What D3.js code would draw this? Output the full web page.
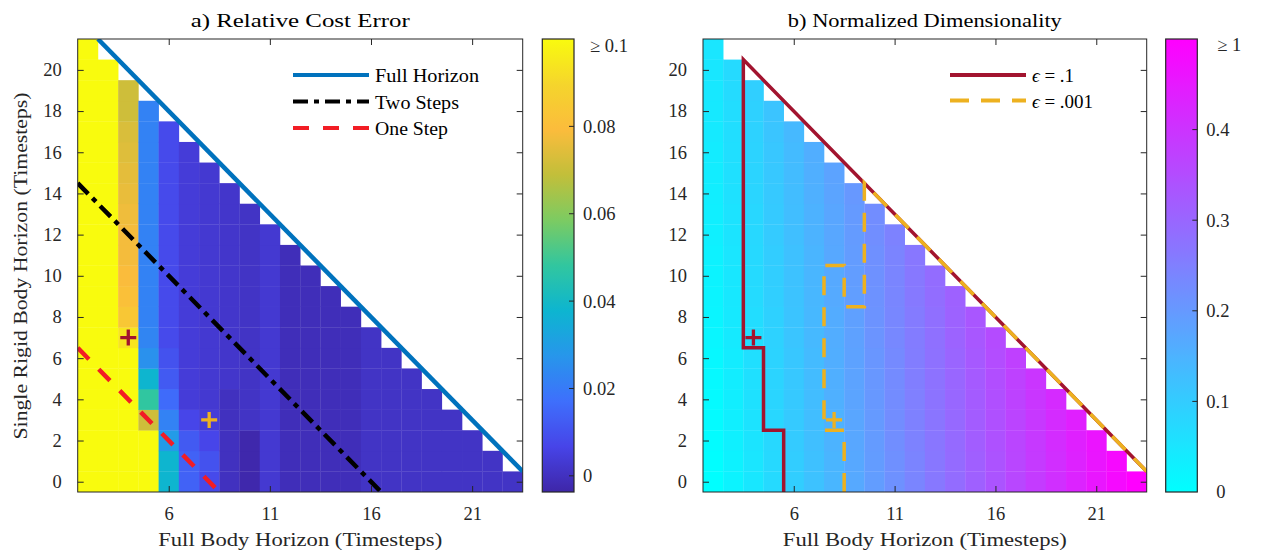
<!DOCTYPE html>
<html>
<head>
<meta charset="utf-8">
<script src="https://cdn.jsdelivr.net/npm/d3@7"></script>
<style>
  body { margin: 0; background: #fff; }
  text { font-family: "Liberation Serif", "Times New Roman", serif; }
</style>
</head>
<body>
<div id="chart"></div>
<script>
const fullBodySteps = [2, 3, 4, 5, 6, 7, 8, 9, 10, 11, 12, 13, 14, 15, 16, 17, 18, 19, 20, 21, 22, 23];
const rigidBodySteps = [0, 1, 2, 3, 4, 5, 6, 7, 8, 9, 10, 11, 12, 13, 14, 15, 16, 17, 18, 19, 20, 21];

// relative cost error, one list per full body horizon, rigid horizon 0 upward
const costError = [
  [0.12, 0.12, 0.12, 0.12, 0.12, 0.12, 0.12, 0.12, 0.12, 0.12, 0.12, 0.12, 0.12, 0.12, 0.12, 0.12, 0.12, 0.12, 0.12, 0.12, 0.12, 0.12],
  [0.12, 0.12, 0.12, 0.12, 0.12, 0.12, 0.12, 0.12, 0.12, 0.12, 0.12, 0.12, 0.12, 0.12, 0.12, 0.12, 0.12, 0.12, 0.12, 0.12, 0.12],
  [0.12, 0.12, 0.12, 0.12, 0.12, 0.12, 0.12, 0.094, 0.084, 0.081, 0.079, 0.078, 0.078, 0.077, 0.076, 0.075, 0.074, 0.073, 0.071, 0.071],
  [0.12, 0.12, 0.12, 0.071, 0.048, 0.038, 0.026, 0.023, 0.022, 0.022, 0.022, 0.022, 0.022, 0.022, 0.022, 0.022, 0.022, 0.022, 0.022],
  [0.038, 0.038, 0.029, 0.022, 0.016, 0.012, 0.010, 0.008, 0.008, 0.008, 0.008, 0.008, 0.008, 0.008, 0.008, 0.008, 0.008, 0.008],
  [0.014, 0.014, 0.012, 0.007, 0.004, 0.004, 0.004, 0.004, 0.004, 0.004, 0.004, 0.004, 0.004, 0.004, 0.004, 0.004, 0.004],
  [0.008, 0.010, 0.007, 0.004, 0.003, 0.003, 0.003, 0.003, 0.003, 0.003, 0.003, 0.003, 0.003, 0.003, 0.003, 0.003],
  [0.000, 0.000, 0.000, 0.000, 0.000, 0.002, 0.002, 0.002, 0.002, 0.002, 0.002, 0.002, 0.002, 0.002, 0.002],
  [-0.003, -0.003, -0.003, 0.001, 0.001, 0.001, 0.001, 0.001, 0.001, 0.001, 0.001, 0.001, 0.001, 0.001],
  [0.003, 0.003, 0.003, 0.003, 0.003, 0.003, 0.003, 0.003, 0.003, 0.003, 0.003, 0.003, 0.003],
  [-0.001, -0.001, -0.001, -0.001, -0.001, -0.001, -0.001, -0.001, -0.001, -0.001, -0.001, -0.001],
  [-0.001, -0.001, -0.001, -0.001, -0.001, -0.001, -0.001, -0.001, -0.001, -0.001, -0.001],
  [-0.001, -0.001, -0.001, -0.001, -0.001, -0.001, -0.001, -0.001, -0.001, -0.001],
  [-0.001, -0.001, -0.001, -0.001, -0.001, -0.001, -0.001, -0.001, -0.001],
  [0.001, 0.001, 0.001, 0.001, 0.001, 0.001, 0.001, 0.001],
  [0.001, 0.001, 0.001, 0.001, 0.001, 0.001, 0.001],
  [0.001, 0.001, 0.001, 0.001, 0.001, 0.001],
  [0.001, 0.001, 0.001, 0.001, 0.001],
  [0.001, 0.001, 0.001, 0.001],
  [0.001, 0.001, 0.001],
  [0.001, 0.001],
  [0.001]
];

// normalized dimensionality, same layout
const normDim = [
  [0.000, 0.002, 0.005, 0.007, 0.010, 0.012, 0.014, 0.017, 0.019, 0.022, 0.024, 0.026, 0.029, 0.031, 0.034, 0.036, 0.038, 0.041, 0.043, 0.046, 0.048, 0.050],
  [0.024, 0.026, 0.029, 0.031, 0.034, 0.036, 0.038, 0.041, 0.043, 0.046, 0.048, 0.050, 0.053, 0.055, 0.058, 0.060, 0.062, 0.065, 0.067, 0.070, 0.072],
  [0.048, 0.050, 0.053, 0.055, 0.058, 0.060, 0.062, 0.065, 0.067, 0.070, 0.072, 0.074, 0.077, 0.079, 0.082, 0.084, 0.086, 0.089, 0.091, 0.094],
  [0.072, 0.074, 0.077, 0.079, 0.082, 0.084, 0.086, 0.089, 0.091, 0.094, 0.096, 0.098, 0.101, 0.103, 0.106, 0.108, 0.110, 0.113, 0.115],
  [0.096, 0.098, 0.101, 0.103, 0.106, 0.108, 0.110, 0.113, 0.115, 0.118, 0.120, 0.122, 0.125, 0.127, 0.130, 0.132, 0.134, 0.137],
  [0.120, 0.122, 0.125, 0.127, 0.130, 0.132, 0.134, 0.137, 0.139, 0.142, 0.144, 0.146, 0.149, 0.151, 0.154, 0.156, 0.158],
  [0.144, 0.146, 0.149, 0.151, 0.154, 0.156, 0.158, 0.161, 0.163, 0.166, 0.168, 0.170, 0.173, 0.175, 0.178, 0.180],
  [0.168, 0.170, 0.173, 0.175, 0.178, 0.180, 0.182, 0.185, 0.187, 0.190, 0.192, 0.194, 0.197, 0.199, 0.202],
  [0.192, 0.194, 0.197, 0.199, 0.202, 0.204, 0.206, 0.209, 0.211, 0.214, 0.216, 0.218, 0.221, 0.223],
  [0.216, 0.218, 0.221, 0.223, 0.226, 0.228, 0.230, 0.233, 0.235, 0.238, 0.240, 0.242, 0.245],
  [0.240, 0.242, 0.245, 0.247, 0.250, 0.252, 0.254, 0.257, 0.259, 0.262, 0.264, 0.266],
  [0.264, 0.266, 0.269, 0.271, 0.274, 0.276, 0.278, 0.281, 0.283, 0.286, 0.288],
  [0.288, 0.290, 0.293, 0.295, 0.298, 0.300, 0.302, 0.305, 0.307, 0.310],
  [0.312, 0.314, 0.317, 0.319, 0.322, 0.324, 0.326, 0.329, 0.331],
  [0.336, 0.338, 0.341, 0.343, 0.346, 0.348, 0.350, 0.353],
  [0.360, 0.362, 0.365, 0.367, 0.370, 0.372, 0.374],
  [0.384, 0.386, 0.389, 0.391, 0.394, 0.396],
  [0.408, 0.410, 0.413, 0.415, 0.418],
  [0.432, 0.434, 0.437, 0.439],
  [0.456, 0.458, 0.461],
  [0.480, 0.482],
  [0.504]
];

const xTicks = [6, 11, 16, 21];
const yTicks = [0, 2, 4, 6, 8, 10, 12, 14, 16, 18, 20];
const costTicks = [0, 0.02, 0.04, 0.06, 0.08, 0.1];
const costTickLabels = ["0", "0.02", "0.04", "0.06", "0.08", "\u2265 0.1"];
const dimTicks = [0, 0.1, 0.2, 0.3, 0.4, 0.5];
const dimTickLabels = ["0", "0.1", "0.2", "0.3", "0.4", "\u2265 1"];

// boundary lines (full body horizon, rigid body horizon)
const fullHorizon = [[2.5, 21.5], [23.5, 0.5]];
const twoSteps = [[1.5, 14.5], [16.5, -0.5]];
const oneStep = [[1.5, 6.5], [8.5, -0.5]];
const eps1 = [[5.5, -0.5], [5.5, 2.5], [4.5, 2.5], [4.5, 6.5], [3.5, 6.5], [3.5, 20.5], [23.5, 0.5]];
const eps001 = [[8.5, -0.5], [8.5, 2.5], [7.5, 2.5], [7.5, 10.5], [8.5, 10.5], [8.5, 8.5], [9.5, 8.5], [9.5, 14.5], [23.5, 0.5]];
const picks = [[4, 7], [8, 3]];

const red = "#A2142F", orange = "#EDB120", blue = "#0072BD";
const parula = d3.piecewise(d3.interpolateRgb, ["#3e26a8", "#4744e8", "#3e6ffc", "#2796eb", "#0db5d0",
  "#31c69f", "#7ccb62", "#c2bf3a", "#fbbc3c", "#f5d52c", "#f9fb0e"]);
const cool = d3.interpolateRgb("#00ffff", "#ff00ff");

const plotTop = 39, plotBottom = 492;
const svg = d3.select("#chart").append("svg").attr("width", 1261).attr("height", 553);

function drawPanel(cfg) {
  const g = svg.append("g");
  const x = d3.scaleLinear().domain([1.5, 23.5]).range([cfg.left, cfg.right]);
  const y = d3.scaleLinear().domain([-0.5, 21.5]).range([plotBottom, plotTop]);
  const color = d3.scaleSequential(cfg.interp).domain(cfg.cbDomain).clamp(true);

  const clipId = "clip" + cfg.id;
  svg.append("clipPath").attr("id", clipId).append("rect")
    .attr("x", cfg.left).attr("y", plotTop).attr("width", cfg.right - cfg.left).attr("height", plotBottom - plotTop);

  const cells = cfg.values.flatMap((col, i) => col.map((v, j) => ({ x: fullBodySteps[i], y: rigidBodySteps[j], v })));
  g.append("g").attr("clip-path", `url(#${clipId})`)
    .selectAll("rect").data(cells).join("rect")
    .attr("x", d => x(d.x - 0.5))
    .attr("y", d => y(d.y + 0.5))
    .attr("width", x(1) - x(0) + 0.3)
    .attr("height", y(0) - y(1) + 0.3)
    .attr("fill", d => color(d.v));

  const line = d3.line().x(d => x(d[0])).y(d => y(d[1]));
  const lines = g.append("g").attr("clip-path", `url(#${clipId})`).attr("fill", "none");
  cfg.lines.forEach(l => {
    lines.append("path").attr("d", line(l.pts))
      .attr("stroke", l.color).attr("stroke-width", l.width)
      .attr("stroke-dasharray", l.dash || null);
  });
  g.selectAll("path.pick").data(picks).join("path").attr("class", "pick")
    .attr("d", d => `M${x(d[0]) - 8},${y(d[1])}H${x(d[0]) + 8}M${x(d[0])},${y(d[1]) - 8}V${y(d[1]) + 8}`)
    .attr("stroke", (d, i) => i === 0 ? red : orange).attr("stroke-width", 3.3).attr("fill", "none");

  // axes, MATLAB box style with inward ticks
  const axisStyle = sel => {
    sel.select(".domain").remove();
    sel.selectAll(".tick line").attr("stroke", "#262626");
    sel.selectAll("text").attr("font-family", "Liberation Serif").attr("font-size", 18.5).attr("fill", "#262626");
  };
  g.append("g").attr("transform", `translate(0,${plotBottom})`)
    .call(d3.axisBottom(x).tickValues(xTicks).tickSize(-6).tickPadding(15)).call(axisStyle);
  g.append("g").attr("transform", `translate(0,${plotTop})`)
    .call(d3.axisTop(x).tickValues(xTicks).tickSize(-6).tickFormat("")).call(axisStyle);
  g.append("g").attr("transform", `translate(${cfg.left},0)`)
    .call(d3.axisLeft(y).tickValues(yTicks).tickSize(-6).tickPadding(16)).call(axisStyle);
  g.append("g").attr("transform", `translate(${cfg.right},0)`)
    .call(d3.axisRight(y).tickValues(yTicks).tickSize(-6).tickFormat("")).call(axisStyle);
  g.append("rect").attr("x", cfg.left).attr("y", plotTop).attr("width", cfg.right - cfg.left).attr("height", plotBottom - plotTop)
    .attr("fill", "none").attr("stroke", "#262626").attr("stroke-width", 1);

  g.append("text").attr("x", (cfg.left + cfg.right) / 2).attr("y", 27).attr("text-anchor", "middle")
    .attr("font-size", 19).attr("textLength", cfg.titleLen).attr("lengthAdjust", "spacingAndGlyphs")
    .attr("fill", "#000").text(cfg.title);
  g.append("text").attr("x", (cfg.left + cfg.right) / 2).attr("y", 546).attr("text-anchor", "middle")
    .attr("font-size", 19.5).attr("textLength", 284).attr("lengthAdjust", "spacingAndGlyphs")
    .attr("fill", "#262626").text("Full Body Horizon (Timesteps)");

  // legend
  const leg = g.append("g");
  cfg.legend.forEach((l, i) => {
    const ly = cfg.legY + i * cfg.legStep;
    leg.append("line").attr("x1", cfg.legX).attr("x2", cfg.legX + 76).attr("y1", ly).attr("y2", ly)
      .attr("stroke", l.color).attr("stroke-width", 4).attr("stroke-dasharray", l.dash || null);
    const t = leg.append("text").attr("x", cfg.legX + 82).attr("y", ly + 7).attr("font-size", 19).attr("fill", "#000");
    if (l.eps) {
      t.append("tspan").attr("font-style", "italic").text("\u03F5");
      t.append("tspan").text(" = " + l.label);
    } else {
      t.attr("textLength", l.len).attr("lengthAdjust", "spacingAndGlyphs").text(l.label);
    }
  });

  // colorbar
  const gradId = "grad" + cfg.id;
  const grad = svg.append("defs").append("linearGradient").attr("id", gradId)
    .attr("x1", 0).attr("y1", 1).attr("x2", 0).attr("y2", 0);
  grad.selectAll("stop").data(d3.range(0, 1.0001, 0.02)).join("stop")
    .attr("offset", d => d).attr("stop-color", d => cfg.interp(d));
  const cy = d3.scaleLinear().domain(cfg.cbDomain).range([plotBottom, plotTop]);
  const cb = g.append("g");
  cb.append("rect").attr("x", cfg.cbLeft).attr("y", plotTop).attr("width", cfg.cbRight - cfg.cbLeft).attr("height", plotBottom - plotTop)
    .attr("fill", `url(#${gradId})`).attr("stroke", "#262626").attr("stroke-width", 1.2);
  cb.selectAll("line.cbt").data(cfg.cbTicks.filter(d => cy(d) > plotTop + 1 && cy(d) < plotBottom - 1)).join("line")
    .attr("x1", cfg.cbRight - 5).attr("x2", cfg.cbRight).attr("y1", d => cy(d)).attr("y2", d => cy(d))
    .attr("stroke", "#262626");
  cb.selectAll("text").data(cfg.cbTicks).join("text")
    .attr("x", (d, i) => cfg.cbRight + 9 + (cfg.cbDx[i] || 0))
    .attr("y", (d, i) => cy(d) + (cfg.cbDy[i] || 0))
    .attr("dy", "0.35em").attr("font-size", 18.5).attr("fill", "#262626")
    .text((d, i) => cfg.cbLabels[i]);
}

drawPanel({
  id: "a", left: 77.7, right: 522.7, cbLeft: 542.3, cbRight: 574,
  values: costError, interp: parula, cbDomain: [-0.0037, 0.1],
  cbTicks: costTicks, cbLabels: costTickLabels, cbDx: [0, 0, 0, 0, 0, 7], cbDy: [0, 0, 0, 0, 0, 7],
  title: "a) Relative Cost Error", titleLen: 219,
  lines: [
    { pts: fullHorizon, color: blue, width: 4.5 },
    { pts: twoSteps, color: "#000", width: 4.5, dash: "15,6,5,6" },
    { pts: oneStep, color: "#f21d25", width: 4.5, dash: "16,14" }
  ],
  legX: 293, legY: 75, legStep: 26.5,
  legend: [
    { label: "Full Horizon", color: blue, len: 104 },
    { label: "Two Steps", color: "#000", dash: "15,6,5,6", len: 84 },
    { label: "One Step", color: "#f21d25", dash: "16,14", len: 73 }
  ]
});

drawPanel({
  id: "b", left: 703, right: 1146.7, cbLeft: 1165.7, cbRight: 1197.3,
  values: normDim, interp: cool, cbDomain: [0, 0.5],
  cbTicks: dimTicks, cbLabels: dimTickLabels, cbDx: [10, 0, 0, 0, 0, 11], cbDy: [0, 0, 0, 0, 0, 6],
  title: "b) Normalized Dimensionality", titleLen: 274,
  lines: [
    { pts: eps1, color: red, width: 3.5 },
    { pts: eps001, color: orange, width: 3.5, dash: "19,12" }
  ],
  legX: 950, legY: 75, legStep: 25.5,
  legend: [
    { label: ".1", color: red, eps: true },
    { label: ".001", color: orange, dash: "19,12", eps: true }
  ]
});

// y label (left panel only)
svg.append("text").attr("transform", "translate(27,266) rotate(-90)").attr("text-anchor", "middle")
  .attr("font-size", 19.5).attr("textLength", 347).attr("lengthAdjust", "spacingAndGlyphs")
  .attr("fill", "#262626").text("Single Rigid Body Horizon (Timesteps)");
</script>
</body>
</html>
